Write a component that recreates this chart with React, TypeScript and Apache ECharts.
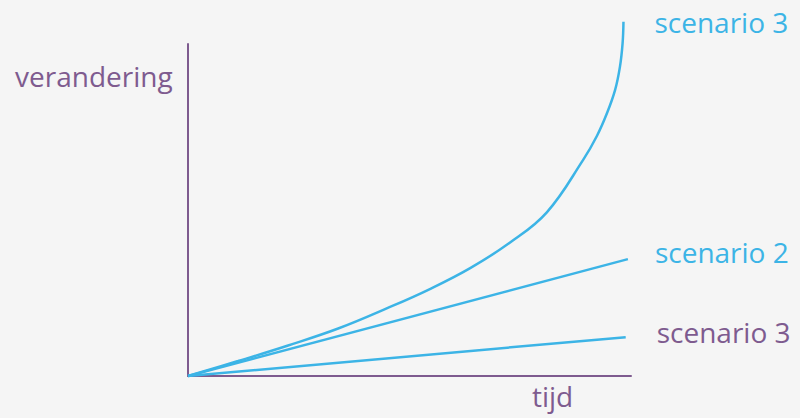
import React, { useEffect, useRef } from "react";
import * as echarts from "echarts";

const seriesNames = ["scenario 3", "scenario 2", "scenario 3"];
const fastX = [0, 11.3, 22.6, 33.9, 45.1, 54.6, 63.7, 72.7, 81.0, 89.2, 92.3, 94.5, 96.4, 97.5, 98.1, 98.3];
const fastY = [0, 4.5, 9.2, 14.3, 20.5, 26.2, 32.5, 40.2, 49.3, 65.1, 72.3, 78.9, 86.1, 93.1, 100.2, 106.7];
const midX = [0, 99.3];
const midY = [0, 35.2];
const lowX = [0, 98.8];
const lowY = [0, 11.7];
const yAxisTitle = "verandering";
const xAxisTitle = "tijd";

const BLUE = "#3cb4e6";
const PURPLE = "#7e5b8f";
const FONT = "Open Sans";

const zip = (xs: number[], ys: number[]) => xs.map((x, i) => [x, ys[i]]);

export default function App() {
  const ref = useRef<HTMLDivElement>(null);
  useEffect(() => {
    document.body.style.margin = "0";
    const chart = echarts.init(ref.current!, null, { renderer: "svg" });
    const mk = (name: string, data: number[][], labelColor: string, offY: number, dist: number, smooth: any) => ({
      type: "line",
      name,
      data,
      smooth,
      showSymbol: false,
      symbol: "none",
      clip: false,
      lineStyle: { color: BLUE, width: 2.5 },
      endLabel: {
        show: true,
        formatter: name,
        color: labelColor,
        fontSize: 28,
        fontFamily: FONT,
        distance: dist,
        offset: [0, offY],
      },
    });
    chart.setOption({
      animation: false,
      backgroundColor: "#f5f5f5",
      grid: { left: 188, right: 169, top: 44, bottom: 42 },
      xAxis: {
        type: "value",
        min: 0,
        max: 100,
        axisLine: { show: true, lineStyle: { color: PURPLE, width: 2 } },
        axisTick: { show: false },
        axisLabel: { show: false },
        splitLine: { show: false },
      },
      yAxis: {
        type: "value",
        min: 0,
        max: 100,
        axisLine: { show: true, lineStyle: { color: PURPLE, width: 2 } },
        axisTick: { show: false },
        axisLabel: { show: false },
        splitLine: { show: false },
      },
      graphic: [
        {
          type: "text",
          left: 15,
          top: 62,
          style: { text: yAxisTitle, fill: PURPLE, fontSize: 28, fontFamily: FONT },
        },
        {
          type: "text",
          left: 532,
          top: 382,
          style: { text: xAxisTitle, fill: PURPLE, fontSize: 28, fontFamily: FONT },
        },
      ],
      series: [
        mk(seriesNames[0], zip(fastX, fastY), BLUE, 0, 31, 0.4),
        mk(seriesNames[1], zip(midX, midY), BLUE, -7, 27, false),
        mk(seriesNames[2], zip(lowX, lowY), PURPLE, -5, 31, false),
      ],
    });
    return () => chart.dispose();
  }, []);
  return <div ref={ref} style={{ width: 800, height: 418 }} />;
}
